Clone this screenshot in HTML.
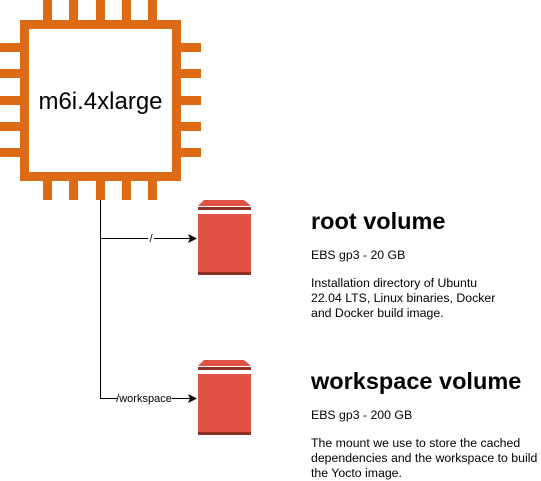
<!DOCTYPE html>
<html><head><style>
html,body{margin:0;padding:0;background:#fff;width:541px;height:481px;overflow:hidden}
svg{display:block;font-family:"Liberation Sans",Arial,sans-serif}
</style></head><body>
<svg width="541" height="481" viewBox="0 0 541 481" xmlns="http://www.w3.org/2000/svg">
<g fill="#dd6b16">
<rect x="43" y="0" width="9" height="20"/><rect x="69" y="0" width="9" height="20"/><rect x="96" y="0" width="9" height="20"/><rect x="122" y="0" width="9" height="20"/><rect x="148" y="0" width="9" height="20"/>
<rect x="43" y="181" width="9" height="19"/><rect x="69" y="181" width="9" height="19"/><rect x="96" y="181" width="9" height="19"/><rect x="122" y="181" width="9" height="19"/><rect x="148" y="181" width="9" height="19"/>
<rect x="0" y="43" width="20" height="9"/><rect x="0" y="69" width="20" height="9"/><rect x="0" y="96" width="20" height="9"/><rect x="0" y="122" width="20" height="9"/><rect x="0" y="148" width="20" height="9"/>
<rect x="181" y="43" width="20" height="9"/><rect x="181" y="69" width="20" height="9"/><rect x="181" y="96" width="20" height="9"/><rect x="181" y="122" width="20" height="9"/><rect x="181" y="148" width="20" height="9"/>
</g>
<rect x="24.5" y="24.5" width="152" height="152" fill="#fff" stroke="#dd6b16" stroke-width="9"/>
<text x="100.5" y="109" font-size="24" text-anchor="middle" fill="#000">m6i.4xlarge</text>
<path d="M100.5 200 V398.5 H190" fill="none" stroke="#000" stroke-width="1"/>
<path d="M100.5 238.5 H190" fill="none" stroke="#000" stroke-width="1"/>
<path d="M188 234 L197 238.5 L188 243 L190 238.5Z" fill="#000"/>
<path d="M188 394 L197 398.5 L188 403 L190 398.5Z" fill="#000"/>
<rect x="148" y="231" width="6" height="13" fill="#fff"/>
<text x="151" y="242" font-size="11" text-anchor="middle">/</text>
<rect x="117" y="392" width="55" height="13" fill="#fff"/>
<text x="144" y="402" font-size="11" text-anchor="middle">/workspace</text>
<g id="c1">
<path d="M204 200 H244 L251 206 H198Z" fill="#e05243"/>
<rect x="198" y="207" width="53" height="3" fill="#8c3123"/>
<rect x="198" y="214" width="53" height="61" fill="#e05243"/>
<rect x="198" y="272" width="53" height="3" fill="#8c3123"/>
</g>
<use href="#c1" transform="translate(0,160)"/>
<text x="311" y="229" font-size="23.5" font-weight="bold">root volume</text>
<text x="311" y="259" font-size="12.3">EBS gp3 - 20 GB</text>
<text x="311" y="287" font-size="12.3">Installation directory of Ubuntu</text>
<text x="311" y="302" font-size="12.3">22.04 LTS, Linux binaries, Docker</text>
<text x="311" y="317" font-size="12.3">and Docker build image.</text>
<text x="311" y="389" font-size="23.5" font-weight="bold">workspace volume</text>
<text x="311" y="419" font-size="12.3">EBS gp3 - 200 GB</text>
<text x="311" y="447" font-size="12.3">The mount we use to store the cached</text>
<text x="311" y="462" font-size="12.3">dependencies and the workspace to build</text>
<text x="311" y="477" font-size="12.3">the Yocto image.</text>
</svg>
</body></html>
